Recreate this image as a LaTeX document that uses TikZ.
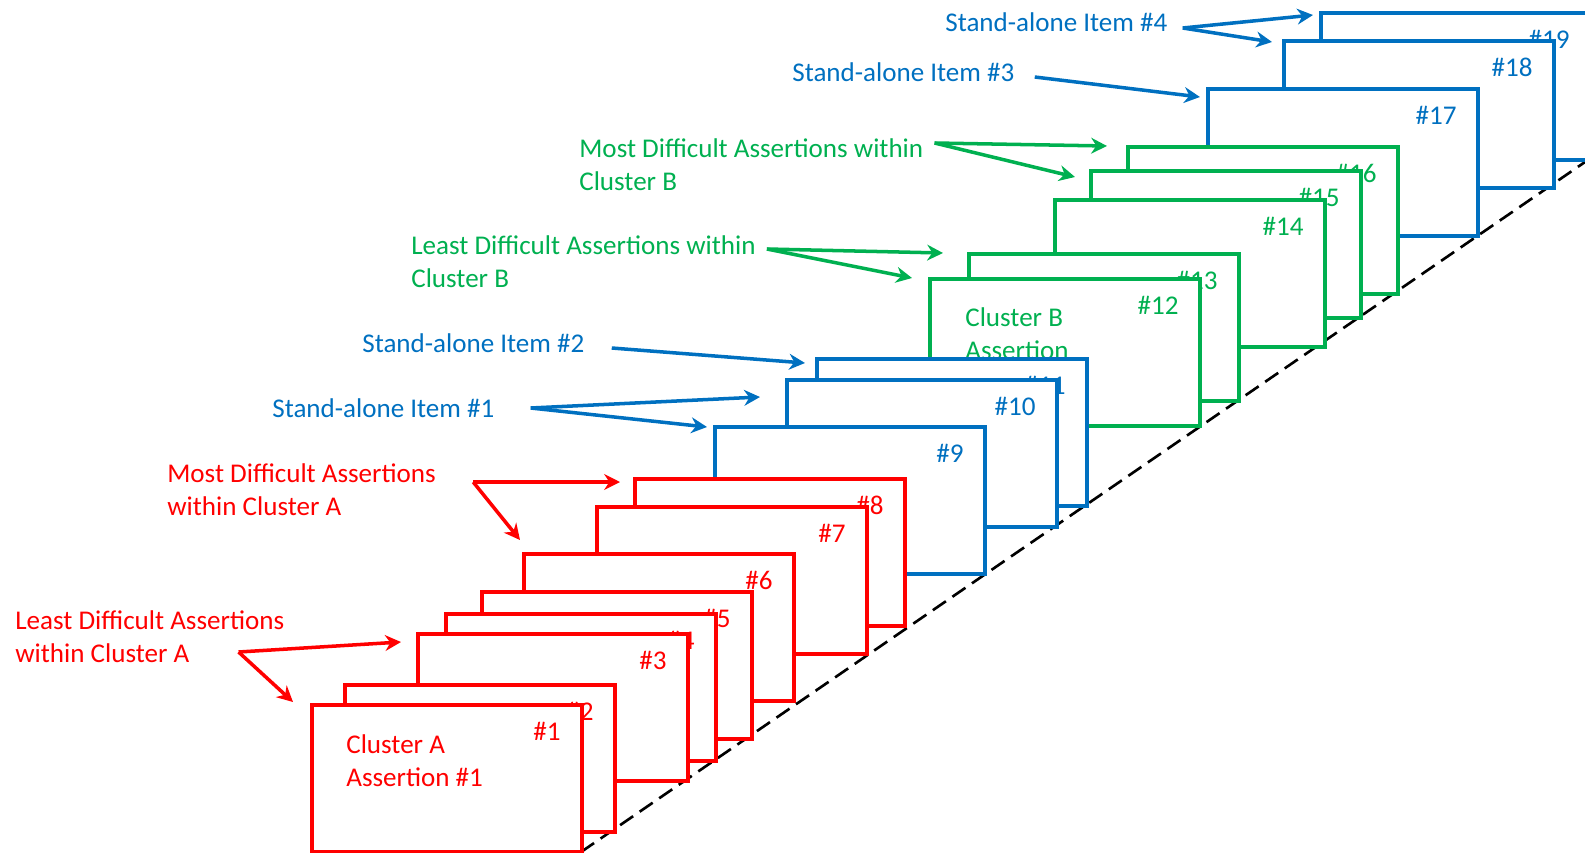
\documentclass[tikz,border=0pt]{standalone}
\usepackage{fontspec}
\setmainfont{Carlito}
\usepackage{tikz}
\usetikzlibrary{arrows.meta,positioning}
\definecolor{clred}{RGB}{255,0,0}
\definecolor{clblue}{RGB}{0,112,192}
\definecolor{clgreen}{RGB}{0,176,80}
\tikzstyle{card} = [rectangle, draw, fill=white, line width=2.2pt, minimum width=5.4cm, minimum height=2.94cm, inner sep=0pt, anchor=north west]
\tikzstyle{arrow} = [line width=2pt, -{Stealth[length=9pt,width=9pt]}]

\begin{document}
\begin{tikzpicture}[
    x=0.02cm, y=-0.02cm,
    every node/.style={font=\fontsize{15.4}{18.8}\selectfont},
    num/.style={anchor=east, inner sep=0pt},
    note/.style={anchor=west, align=left, inner sep=0pt}
]
\useasboundingbox (0,0) rectangle (1585,852);

% Base line
\draw[line width=1.5pt, dash pattern=on 9pt off 4.5pt] (581,852) -- (1585,162);

% Stand-alone items #3 and #4
\node[card, draw=clblue] (c19) at (1319,11) {};
\node[num, text=clblue] at ([shift={(-23,28)}]c19.north east) {\#19};
\node[card, draw=clblue] (c18) at (1282,39) {};
\node[num, text=clblue] at ([shift={(-23,28)}]c18.north east) {\#18};
\node[card, draw=clblue] (c17) at (1206,87) {};
\node[num, text=clblue] at ([shift={(-23,28)}]c17.north east) {\#17};

% Cluster B
\node[card, draw=clgreen] (c16) at (1126,145) {};
\node[num, text=clgreen] at ([shift={(-23,28)}]c16.north east) {\#16};
\node[card, draw=clgreen] (c15) at (1089,169) {};
\node[num, text=clgreen] at ([shift={(-23,28)}]c15.north east) {\#15};
\node[card, draw=clgreen] (c14) at (1053,198) {};
\node[num, text=clgreen] at ([shift={(-23,28)}]c14.north east) {\#14};
\node[card, draw=clgreen] (c13) at (967,252) {};
\node[num, text=clgreen] at ([shift={(-23,28)}]c13.north east) {\#13};
\node[card, draw=clgreen] (c12) at (928,277) {};
\node[num, text=clgreen] at ([shift={(-23,28)}]c12.north east) {\#12};
\node[note, text=clgreen] at ([shift={(37,57)}]c12.north west) {Cluster B\\Assertion};

% Stand-alone items #1 and #2
\node[card, draw=clblue] (c11) at (815,357) {};
\node[num, text=clblue] at ([shift={(-23,28)}]c11.north east) {\#11};
\node[card, draw=clblue] (c10) at (785,378) {};
\node[num, text=clblue] at ([shift={(-23,28)}]c10.north east) {\#10};
\node[card, draw=clblue] (c9) at (713,425) {};
\node[num, text=clblue] at ([shift={(-23,28)}]c9.north east) {\#9};

% Cluster A
\node[card, draw=clred] (c8) at (633,477) {};
\node[num, text=clred] at ([shift={(-23,28)}]c8.north east) {\#8};
\node[card, draw=clred] (c7) at (595,505) {};
\node[num, text=clred] at ([shift={(-23,28)}]c7.north east) {\#7};
\node[card, draw=clred] (c6) at (522,552) {};
\node[num, text=clred] at ([shift={(-23,28)}]c6.north east) {\#6};
\node[card, draw=clred] (c5) at (480,590) {};
\node[num, text=clred] at ([shift={(-23,28)}]c5.north east) {\#5};
\node[card, draw=clred] (c4) at (444,612) {};
\node[num, text=clred] at ([shift={(-23,28)}]c4.north east) {\#4};
\node[card, draw=clred] (c3) at (416,632) {};
\node[num, text=clred] at ([shift={(-23,28)}]c3.north east) {\#3};
\node[card, draw=clred] (c2) at (343,683) {};
\node[num, text=clred] at ([shift={(-23,28)}]c2.north east) {\#2};
\node[card, draw=clred] (c1) at (310,703) {};
\node[num, text=clred] at ([shift={(-23,28)}]c1.north east) {\#1};
\node[note, text=clred] at ([shift={(36,58)}]c1.north west) {Cluster A\\Assertion \#1};

% Notes
\node[note, text=clblue] (lblS4) at (945,22) {Stand-alone Item \#4};
\node[note, text=clblue] (lblS3) at (792,72) {Stand-alone Item \#3};
\node[note, text=clgreen] (lblB2) at (579,165) {Most Difficult Assertions within\\Cluster B};
\node[note, text=clgreen] (lblB1) at (411,262) {Least Difficult Assertions within\\Cluster B};
\node[note, text=clblue] (lblS2) at (362,343) {Stand-alone Item \#2};
\node[note, text=clblue] (lblS1) at (272,408) {Stand-alone Item \#1};
\node[note, text=clred] (lblA2) at (167,490) {Most Difficult Assertions\\within Cluster A};
\node[note, text=clred] (lblA1) at (15,637) {Least Difficult Assertions\\within Cluster A};

% Arrow ends
\coordinate (sS4) at ([shift={(15,6)}]lblS4.east);
\coordinate (sS3) at ([shift={(20,5)}]lblS3.east);
\coordinate (sB2) at ([shift={(11,-22)}]lblB2.east);
\coordinate (sB1) at ([shift={(11,-13)}]lblB1.east);
\coordinate (sS2) at ([shift={(27,5)}]lblS2.east);
\coordinate (sS1) at ([shift={(36,0)}]lblS1.east);
\coordinate (sA2) at ([shift={(37,-8)}]lblA2.east);
\coordinate (sA1) at ([shift={(-46,15)}]lblA1.east);
\coordinate (tS4a) at (1313,15);
\coordinate (tS4b) at (1272,42);
\coordinate (tS3) at (1200,97);
\coordinate (tB2a) at (1107,146);
\coordinate (tB2b) at (1075,177);
\coordinate (tB1a) at (943,253);
\coordinate (tB1b) at (912,278);
\coordinate (tS2) at (805,363);
\coordinate (tS1a) at (760,397);
\coordinate (tS1b) at (707,427);
\coordinate (tA2a) at (620,482);
\coordinate (tA2b) at (520,540);
\coordinate (tA1a) at (401,642);
\coordinate (tA1b) at (293,702);

% Arrows
\draw[arrow, clblue] (sS4) -- (tS4a);
\draw[arrow, clblue] (sS4) -- (tS4b);
\draw[arrow, clblue] (sS3) -- (tS3);
\draw[arrow, clgreen] (sB2) -- (tB2a);
\draw[arrow, clgreen] (sB2) -- (tB2b);
\draw[arrow, clgreen] (sB1) -- (tB1a);
\draw[arrow, clgreen] (sB1) -- (tB1b);
\draw[arrow, clblue] (sS2) -- (tS2);
\draw[arrow, clblue] (sS1) -- (tS1a);
\draw[arrow, clblue] (sS1) -- (tS1b);
\draw[arrow, clred] (sA2) -- (tA2a);
\draw[arrow, clred] (sA2) -- (tA2b);
\draw[arrow, clred] (sA1) -- (tA1a);
\draw[arrow, clred] (sA1) -- (tA1b);

\end{tikzpicture}
\end{document}
